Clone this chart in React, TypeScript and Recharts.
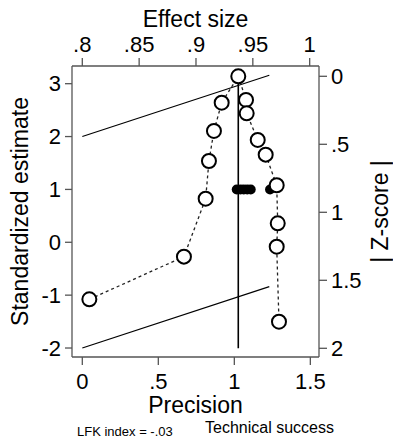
import {
  ComposedChart,
  Line,
  Scatter,
  XAxis,
  YAxis,
  Label,
} from "recharts";

const FONT = '"Liberation Sans", Arial, sans-serif';

// Doi plot: effect size (top axis) vs |Z-score| (right axis)
const doiEffect = [0.8062, 0.8894, 0.9085, 0.9114, 0.9158, 0.9226, 0.9372, 0.944, 0.9446, 0.9543, 0.9613, 0.971, 0.9719, 0.971, 0.973];
const doiZ = [1.64, 1.326, 0.9, 0.623, 0.402, 0.194, 0, 0.174, 0.272, 0.468, 0.576, 0.801, 1.081, 1.253, 1.804];

// pooled effect line
const pooledEffect = 0.9372;
const pooledZ = [0, 2];

// Galbraith limits: precision vs standardized estimate
const limitPrecision = [0, 1.23];
const upperLimit = [2, 3.16];
const lowerLimit = [-2, -0.84];

// filled points on the radial plot
const dotPrecision = [1.016, 1.04, 1.062, 1.085, 1.108, 1.235];
const dotEstimate = [1, 1, 1, 1, 1, 1];

const effectTicks = [0.8, 0.85, 0.9, 0.95, 1];
const precisionTicks = [0, 0.5, 1, 1.5];
const estimateTicks = [-2, -1, 0, 1, 2, 3];
const zTicks = [0, 0.5, 1, 1.5, 2];

const doiData = doiEffect.map((es, i) => ({ es, z: doiZ[i] }));
const pooledData = pooledZ.map((z) => ({ es: pooledEffect, z }));
const upperData = limitPrecision.map((p, i) => ({ p, s: upperLimit[i] }));
const lowerData = limitPrecision.map((p, i) => ({ p, s: lowerLimit[i] }));
const dotData = dotPrecision.map((p, i) => ({ p, s: dotEstimate[i] }));

const fmt = (v: number) => String(v).replace(/^0\./, ".");

const AXIS = "#555";
const tickStyle = { fontSize: 22, fill: "#000", fontFamily: FONT };

const title = (text: string, where: "top" | "bottom" | "left" | "right") =>
  ({ viewBox }: any) => {
    const { x, y, width, height } = viewBox;
    let tx = x + width / 2;
    let ty = y + height / 2;
    let rot = 0;
    if (where === "top") ty = y + 27;
    if (where === "bottom") ty = y + 56;
    if (where === "left") { tx = x + 28; rot = -90; }
    if (where === "right") { tx = x + width - 5; rot = -90; }
    return (
      <text
        x={tx}
        y={ty}
        textAnchor="middle"
        transform={rot ? `rotate(${rot} ${tx} ${ty})` : undefined}
        style={{ fontSize: 23, fontFamily: FONT, fill: "#000" }}
      >
        {text}
      </text>
    );
  };

const Hollow = (props: any) => (
  <circle cx={props.cx} cy={props.cy} r={7} fill="#fff" stroke="#000" strokeWidth={2} />
);
const Filled = (props: any) => (
  <circle cx={props.cx} cy={props.cy} r={5} fill="#000" />
);

export default function App() {
  return (
    <div style={{ position: "absolute", left: 0, top: 0, width: 393, height: 440, background: "#fff" }}>
      <ComposedChart width={393} height={440} margin={{ top: 0, right: 0, bottom: 0, left: 0 }}>
        <XAxis
          xAxisId="p"
          dataKey="p"
          type="number"
          orientation="bottom"
          height={83}
          domain={[-0.0678, 1.557]}
          allowDataOverflow
          ticks={precisionTicks}
          tickFormatter={fmt}
          tick={tickStyle}
          tickSize={8}
          tickMargin={8}
          stroke={AXIS}
          strokeWidth={1.3}
        >
          <Label content={title("Precision", "bottom")} />
        </XAxis>
        <XAxis
          xAxisId="es"
          dataKey="es"
          type="number"
          orientation="top"
          height={66}
          domain={[0.79094, 1.0082]}
          allowDataOverflow
          ticks={effectTicks}
          tickFormatter={fmt}
          tick={tickStyle}
          tickSize={8}
          tickMargin={6}
          stroke={AXIS}
          strokeWidth={1.3}
        >
          <Label content={title("Effect size", "top")} />
        </XAxis>
        <YAxis
          yAxisId="s"
          dataKey="s"
          type="number"
          orientation="left"
          width={72}
          domain={[-2.17, 3.3346]}
          allowDataOverflow
          ticks={estimateTicks}
          tickFormatter={fmt}
          tick={tickStyle}
          tickSize={7}
          tickMargin={4}
          stroke={AXIS}
          strokeWidth={1.3}
        >
          <Label content={title("Standardized estimate", "left")} />
        </YAxis>
        <YAxis
          yAxisId="z"
          dataKey="z"
          type="number"
          orientation="right"
          width={74}
          reversed
          domain={[-0.0757, 2.064]}
          allowDataOverflow
          ticks={zTicks}
          tickFormatter={fmt}
          tick={tickStyle}
          tickSize={8}
          tickMargin={4}
          stroke={AXIS}
          strokeWidth={1.3}
        >
          <Label content={title("| Z-score |", "right")} />
        </YAxis>

        <Line xAxisId="p" yAxisId="s" data={upperData} dataKey="s" stroke="#000" strokeWidth={1.2} dot={false} isAnimationActive={false} />
        <Line xAxisId="p" yAxisId="s" data={lowerData} dataKey="s" stroke="#000" strokeWidth={1.2} dot={false} isAnimationActive={false} />
        <Line xAxisId="es" yAxisId="z" data={pooledData} dataKey="z" stroke="#000" strokeWidth={1.6} dot={false} isAnimationActive={false} />
        <Scatter xAxisId="p" yAxisId="s" data={dotData} shape={Filled} isAnimationActive={false} />
        <Scatter
          xAxisId="es"
          yAxisId="z"
          data={doiData}
          shape={Hollow}
          line={{ stroke: "#222", strokeWidth: 1.3, strokeDasharray: "3 3" }}
          isAnimationActive={false}
        />
      </ComposedChart>
      <svg width={393} height={440} style={{ position: "absolute", left: 0, top: 0, pointerEvents: "none" }}>
        <text x={77} y={436} style={{ fontSize: 13, fontFamily: FONT, fill: "#000" }}>LFK index = -.03</text>
        <text x={205} y={433} style={{ fontSize: 16, fontFamily: FONT, fill: "#000" }}>Technical success</text>
      </svg>
    </div>
  );
}
